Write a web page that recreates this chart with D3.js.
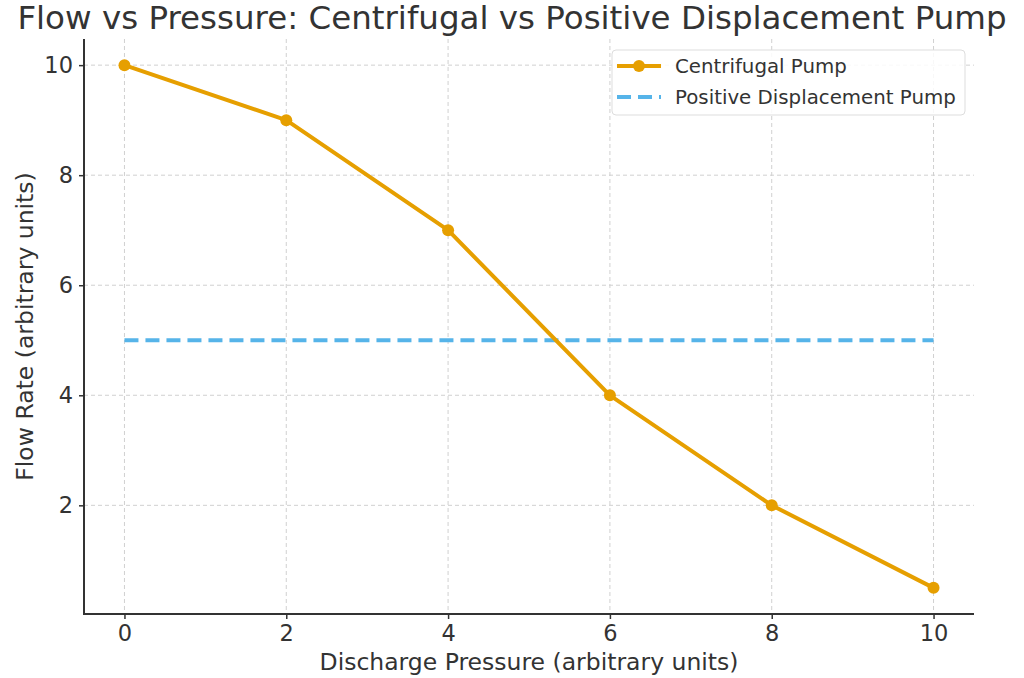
<!DOCTYPE html>
<html>
<head>
<meta charset="utf-8">
<script src="https://cdn.jsdelivr.net/npm/d3@7"></script>
<style>
  body { margin: 0; background: #fff; }
  text { font-family: "DejaVu Sans", sans-serif; fill: #333; }
</style>
</head>
<body>
<div id="chart"></div>
<script>
// data
var pressure = [0, 2, 4, 6, 8, 10];
var centrifugalFlow = [10, 9, 7, 4, 2, 0.5];
var pdPressure = [0, 10];
var pdFlow = [5, 5];
var xTicks = [0, 2, 4, 6, 8, 10];
var yTicks = [2, 4, 6, 8, 10];
var seriesNames = ["Centrifugal Pump", "Positive Displacement Pump"];

var width = 1024, height = 678;
var plotLeft = 84, plotRight = 974, plotTop = 39, plotBottom = 614;
var orange = "#E69F00", blue = "#56B4E9";

var svg = d3.select("#chart").append("svg")
  .attr("width", width)
  .attr("height", height);

var x = d3.scaleLinear().domain([-0.5, 10.5]).range([plotLeft, plotRight]);
var y = d3.scaleLinear().domain([0.025, 10.475]).range([plotBottom, plotTop]);

// grid
var grid = svg.append("g");
grid.selectAll(".gx").data(xTicks).enter().append("line")
  .attr("x1", d => x(d)).attr("x2", d => x(d))
  .attr("y1", plotTop).attr("y2", plotBottom)
  .attr("stroke", "#d0d0d0").attr("stroke-width", 1)
  .attr("stroke-dasharray", "4,3");
grid.selectAll(".gy").data(yTicks).enter().append("line")
  .attr("x1", plotLeft).attr("x2", plotRight)
  .attr("y1", d => y(d)).attr("y2", d => y(d))
  .attr("stroke", "#d0d0d0").attr("stroke-width", 1)
  .attr("stroke-dasharray", "4,3");

// axes
var xAxis = svg.append("g")
  .attr("transform", "translate(0," + plotBottom + ")")
  .call(d3.axisBottom(x).tickValues(xTicks).tickSize(5).tickPadding(6).tickSizeOuter(0));
var yAxis = svg.append("g")
  .attr("transform", "translate(" + plotLeft + ",0)")
  .call(d3.axisLeft(y).tickValues(yTicks).tickSize(5).tickPadding(6).tickSizeOuter(0));
[xAxis, yAxis].forEach(function(a) {
  a.select(".domain").attr("stroke", "#333").attr("stroke-width", 2);
  a.selectAll(".tick line").attr("stroke", "#333").attr("stroke-width", 1.5);
  a.selectAll(".tick text").style("font-size", "22.5px").attr("fill", "#333")
    .style("font-family", "DejaVu Sans, sans-serif");
});
// only draw the spine across the plot area
xAxis.select(".domain").attr("d", "M" + plotLeft + ",0H" + plotRight);
yAxis.select(".domain").attr("d", "M0," + plotTop + "V" + (plotBottom + 1));

// series
var pts = pressure.map((p, i) => [p, centrifugalFlow[i]]);
var line = d3.line().x(d => x(d[0])).y(d => y(d[1]));

svg.append("path")
  .datum(pdPressure.map((p, i) => [p, pdFlow[i]]))
  .attr("d", line)
  .attr("fill", "none")
  .attr("stroke", blue).attr("stroke-width", 4)
  .attr("stroke-dasharray", "14,7");

svg.append("path")
  .datum(pts)
  .attr("d", line)
  .attr("fill", "none")
  .attr("stroke", orange).attr("stroke-width", 4)
  .attr("stroke-linejoin", "round");

svg.selectAll(".pt").data(pts).enter().append("circle")
  .attr("cx", d => x(d[0])).attr("cy", d => y(d[1]))
  .attr("r", 6).attr("fill", orange);

// labels
svg.append("text")
  .attr("x", 512).attr("y", 29)
  .attr("text-anchor", "middle")
  .style("font-size", "32.5px")
  .text("Flow vs Pressure: Centrifugal vs Positive Displacement Pump");

svg.append("text")
  .attr("x", (plotLeft + plotRight) / 2).attr("y", 670)
  .attr("text-anchor", "middle")
  .style("font-size", "23.5px")
  .text("Discharge Pressure (arbitrary units)");

svg.append("text")
  .attr("transform", "translate(33," + ((plotTop + plotBottom) / 2) + ") rotate(-90)")
  .attr("text-anchor", "middle")
  .style("font-size", "23.5px")
  .text("Flow Rate (arbitrary units)");

// legend
var lg = svg.append("g");
lg.append("rect")
  .attr("x", 612).attr("y", 50).attr("width", 353).attr("height", 65)
  .attr("rx", 4)
  .attr("fill", "#fff").attr("fill-opacity", 0.85)
  .attr("stroke", "#ddd").attr("stroke-width", 1);
var rowY = [66, 97];
lg.append("line").attr("x1", 617).attr("x2", 661)
  .attr("y1", rowY[0]).attr("y2", rowY[0])
  .attr("stroke", orange).attr("stroke-width", 4);
lg.append("circle").attr("cx", 639).attr("cy", rowY[0]).attr("r", 6).attr("fill", orange);
lg.append("line").attr("x1", 617).attr("x2", 661)
  .attr("y1", rowY[1]).attr("y2", rowY[1])
  .attr("stroke", blue).attr("stroke-width", 4)
  .attr("stroke-dasharray", "14,7");
lg.selectAll(".lt").data(seriesNames).enter().append("text")
  .attr("x", 675).attr("y", (d, i) => rowY[i] + 7)
  .style("font-size", "19.8px")
  .text(d => d);
</script>
</body>
</html>
